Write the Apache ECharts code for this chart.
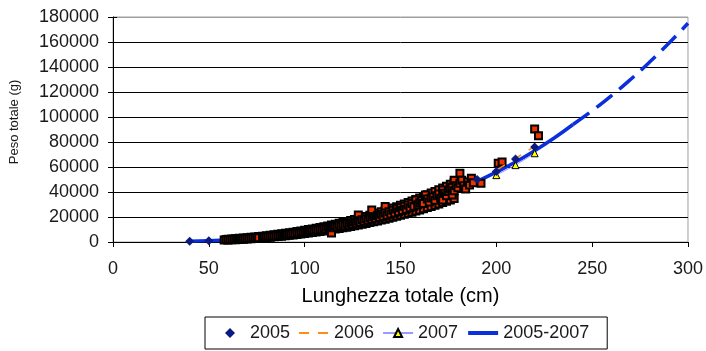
<!DOCTYPE html>
<html>
<head>
<meta charset="utf-8">
<script src="https://cdn.jsdelivr.net/npm/echarts@6/dist/echarts.min.js"></script>
<style>
  html, body { margin: 0; padding: 0; background: #fff; }
  #chart { width: 706px; height: 351px; }
</style>
</head>
<body>
<div id="chart"></div>
<script>
// curva di regressione 2005-2007
const fitLen = [40, 50, 60, 70, 80, 90, 100, 110, 120, 130, 140, 150, 160, 170, 180, 190, 200, 210, 220, 230, 240];
const fitWeight = [600, 1100, 1800, 2900, 4200, 6000, 8000, 10500, 13500, 17000, 21000, 25000, 30000, 35500, 41500, 48500, 56000, 64000, 73000, 83000, 94000];
const extLen = [240, 250, 260, 270, 280, 290, 300];
const extWeight = [94000, 105000, 117000, 130000, 144000, 159000, 175000];

// medie per classe
const len2005 = [40, 50, 190, 200, 210, 220];
const weight2005 = [600, 1100, 50000, 56500, 66500, 76000];
const len2006 = [200, 210, 220];
const weight2006 = [57500, 66800, 76500];
const len2007 = [200, 210, 220];
const weight2007 = [53500, 61500, 71000];

// singoli esemplari
const sampleLen = [58, 59, 60, 61, 62, 63, 64, 65, 66, 67, 68, 69, 70, 71, 72, 73, 74, 75, 76, 78,
  79, 80, 81, 82, 83, 84, 85, 86, 87, 88, 89, 90, 91, 92, 93, 94, 95, 96, 97, 98,
  99, 100, 101, 102, 103, 104, 105, 106, 107, 108, 109, 110, 111, 112, 113, 114, 114, 115, 116, 117,
  118, 119, 120, 121, 122, 123, 124, 125, 126, 127, 128, 128, 129, 130, 131, 132, 133, 134, 135, 135,
  136, 137, 138, 139, 140, 141, 142, 142, 143, 144, 145, 146, 147, 148, 148, 149, 150, 151, 152, 153,
  154, 155, 156, 157, 158, 159, 160, 161, 162, 163, 164, 165, 166, 167, 168, 169, 170, 171, 172, 172,
  173, 174, 175, 176, 177, 177, 178, 178, 179, 180, 181, 181, 182, 183, 184, 185, 186, 187, 188, 192,
  201, 203, 220, 222];
const sampleWeight = [1700, 2000, 1800, 2100, 2000, 2300, 2200, 2500, 2300, 2700, 2600, 2900, 2800, 3100, 3000, 3400, 3200, 3600, 3500, 3900,
  4200, 4000, 4500, 4300, 4800, 4600, 5100, 4900, 5400, 5600, 5300, 6100, 5800, 6400, 6200, 6900, 6600, 7300, 7000, 7800,
  7400, 8300, 7900, 8800, 8400, 9300, 8900, 9900, 9400, 10500, 9900, 11000, 10300, 11800, 10800, 7300, 12400, 11500, 13000, 12100,
  13600, 12600, 14200, 13100, 14900, 13900, 15500, 14500, 16300, 15200, 21600, 17000, 15900, 17800, 16600, 18600, 17400, 19400, 25600, 18200,
  20300, 19000, 21200, 19800, 22200, 20600, 28400, 23300, 21500, 24300, 22400, 25400, 23200, 27200, 26500, 24200, 27500, 25200, 28600, 26300,
  29700, 27400, 30800, 28600, 33600, 29800, 31500, 33000, 30800, 37600, 34500, 32000, 35200, 36000, 33500, 37000, 38500, 35000, 41600, 33600,
  39000, 37000, 40500, 42500, 44000, 37600, 49500, 41000, 45000, 43500, 55000, 47000, 49500, 45000, 42500, 48000, 45600, 51000, 47500, 47000,
  63000, 64000, 90400, 85000];

// bordi superiore e inferiore della nuvola di punti
const bandLen = [60, 62, 64, 66, 68, 70, 72, 74, 76, 78, 80, 82, 84, 86, 88, 90, 92, 94, 96, 98,
  100, 102, 104, 106, 108, 110, 112, 114, 116, 118, 120, 122, 124, 126, 128, 130, 132, 134, 136, 138,
  140, 142, 144, 146, 148, 150, 152, 154, 156, 158, 160, 162, 164, 166, 168, 170, 172, 174, 176, 178];
const bandUpper = [2300, 2500, 2700, 3000, 3200, 3500, 3800, 4000, 4400, 4700, 5000, 5400, 5800, 6200, 6600, 7000, 7500, 7900, 8400, 8900,
  9400, 10000, 10500, 11100, 11700, 12300, 12900, 13600, 14300, 15000, 15700, 16500, 17200, 18000, 18800, 19700, 20500, 21400, 22300, 23200,
  24200, 25200, 26200, 27200, 28300, 29400, 30500, 31700, 32800, 34000, 35300, 36500, 37800, 39200, 40500, 41900, 43300, 44700, 46200, 47700];
const bandLower = [1600, 1750, 1900, 2100, 2300, 2450, 2700, 2900, 3100, 3350, 3600, 3900, 4150, 4450, 4700, 5050, 5350, 5700, 6050, 6400,
  6800, 7200, 7600, 8000, 8450, 8900, 9350, 9850, 10350, 10850, 11400, 11900, 12500, 13100, 13700, 14300, 14900, 15600, 16200, 16900,
  17600, 18300, 19100, 19800, 20600, 21400, 22200, 23100, 23900, 24800, 25700, 26600, 27600, 28500, 29500, 30500, 31600, 32600, 33700, 34800];

const xTicks = { min: 0, max: 300, interval: 50 };
const yTicks = { min: 0, max: 180000, interval: 20000 };

const zip = (a, b) => a.map((v, i) => [v, b[i]]);

const font = 'Liberation Sans, Arial, sans-serif';
const gridColors = ['#000', '#000', '#000', '#000', '#000', '#000', '#000', '#000', '#000', '#a0a0a0'];

const samples = zip(bandLen, bandUpper)
  .concat(zip(bandLen, bandLower))
  .concat(zip(sampleLen, sampleWeight));

const chart = echarts.init(document.getElementById('chart'));
chart.setOption({
  animation: false,
  textStyle: { fontFamily: font, color: '#1a1a1a' },
  grid: {
    left: 113, right: 18, top: 17, bottom: 109,
    show: true, borderColor: '#a0a0a0', borderWidth: 1
  },
  legend: {
    left: 205, top: 317,
    padding: [7, 18, 7, 20],
    itemGap: 8,
    itemWidth: 30,
    itemHeight: 10,
    borderColor: '#000',
    borderWidth: 1,
    textStyle: { fontFamily: font, fontSize: 18, color: '#1a1a1a' },
    data: [
      { name: '2005', icon: 'path://M5,0L10,5L5,10L0,5Z' },
      { name: '2006', itemStyle: { opacity: 0 } },
      { name: '2007' },
      { name: '2005-2007', itemStyle: { opacity: 0 }, lineStyle: { width: 4 } }
    ]
  },
  xAxis: {
    type: 'value',
    min: xTicks.min, max: xTicks.max, interval: xTicks.interval,
    name: 'Lunghezza totale (cm)',
    nameLocation: 'middle',
    nameGap: 44,
    nameTextStyle: { fontFamily: font, fontSize: 20, color: '#000' },
    axisLine: { lineStyle: { color: '#000', width: 1 } },
    axisTick: { show: true, length: 5, lineStyle: { color: '#000' } },
    axisLabel: { fontSize: 18, margin: 18, color: '#1a1a1a' },
    splitLine: { show: false }
  },
  yAxis: [{
    type: 'value',
    min: yTicks.min, max: yTicks.max, interval: yTicks.interval,
    name: 'Peso totale (g)',
    nameLocation: 'middle',
    nameGap: 92,
    nameTextStyle: { fontFamily: font, fontSize: 13, color: '#1a1a1a', padding: [0, 0, 0, 15] },
    axisLine: { show: true, lineStyle: { color: '#000', width: 1 } },
    axisTick: { show: true, length: 5, lineStyle: { color: '#000' } },
    axisLabel: { fontSize: 18, margin: 14, color: '#1a1a1a', formatter: (v) => String(v) },
    splitLine: { show: true, lineStyle: { color: gridColors, width: 1 } }
  }, {
    type: 'value',
    position: 'left',
    min: yTicks.min, max: yTicks.max, interval: yTicks.interval,
    axisLine: { show: false },
    axisTick: { show: true, inside: true, length: 4, lineStyle: { color: '#000' } },
    axisLabel: { show: false },
    splitLine: { show: false }
  }],
  series: [
    {
      name: '2005-2007',
      type: 'line',
      data: zip(fitLen, fitWeight),
      smooth: true,
      symbol: 'none',
      lineStyle: { color: '#0b2fdd', width: 3.5 },
      itemStyle: { color: '#0b2fdd' },
      z: 2
    },
    {
      name: '2005-2007',
      type: 'line',
      data: zip(extLen, extWeight),
      smooth: true,
      symbol: 'none',
      lineStyle: { color: '#0b2fdd', width: 3.5, type: [20, 9] },
      itemStyle: { color: '#0b2fdd' },
      z: 2
    },
    {
      name: 'esemplari',
      type: 'scatter',
      data: samples,
      symbol: 'rect',
      symbolSize: 7,
      itemStyle: { color: '#ee3300', borderColor: '#000', borderWidth: 2, opacity: 1 },
      z: 3
    },
    {
      name: '2007',
      type: 'line',
      data: zip(len2007, weight2007),
      symbol: 'triangle',
      symbolSize: 7,
      lineStyle: { color: '#9999ff', width: 1 },
      itemStyle: { color: '#ffff00', borderColor: '#000', borderWidth: 1 },
      z: 4
    },
    {
      name: '2006',
      type: 'line',
      data: zip(len2006, weight2006),
      symbol: 'none',
      lineStyle: { color: '#ff8c1a', width: 1.5, type: [10, 9] },
      itemStyle: { color: '#ff8c1a' },
      z: 5
    },
    {
      name: '2005',
      type: 'scatter',
      data: zip(len2005, weight2005),
      symbol: 'diamond',
      symbolSize: 9,
      itemStyle: { color: '#0a1a80', opacity: 1 },
      z: 6
    }
  ]
});
</script>
</body>
</html>
